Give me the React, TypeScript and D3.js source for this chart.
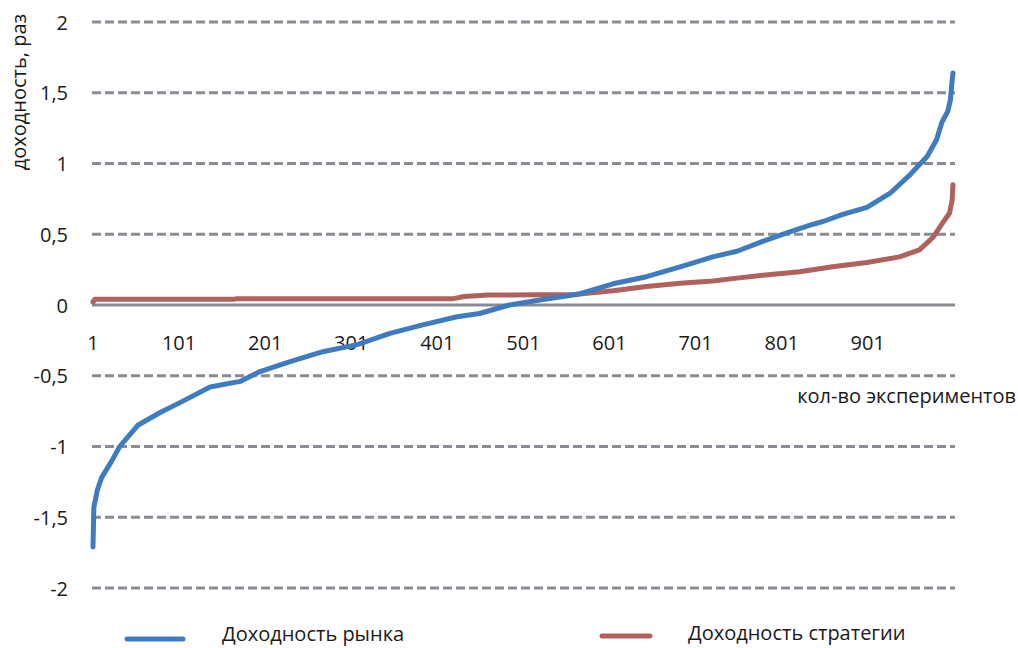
import { useMemo } from 'react'
import { scaleLinear, line, curveLinear } from 'd3'

// Отсортированная доходность рынка и стратегии по 1000 экспериментам

const marketIdx = [1, 2, 6, 11, 23, 32, 53, 79, 102, 137, 172, 195, 230, 268, 308, 346, 384, 424, 450, 485, 520, 566, 605, 644, 683, 721, 749, 779, 807, 834, 849, 872, 900, 927, 950, 970, 981, 987, 994, 997, 999, 1000]
const marketVal = [-1.71, -1.43, -1.31, -1.22, -1.1, -1.0, -0.85, -0.76, -0.69, -0.58, -0.54, -0.47, -0.4, -0.33, -0.28, -0.2, -0.14, -0.083, -0.06, 0.0, 0.035, 0.078, 0.15, 0.2, 0.27, 0.34, 0.38, 0.45, 0.51, 0.565, 0.59, 0.64, 0.69, 0.79, 0.92, 1.05, 1.17, 1.29, 1.37, 1.45, 1.59, 1.64]

const strategyIdx = [1, 3, 165, 168, 420, 432, 460, 560, 605, 644, 683, 721, 749, 779, 822, 860, 900, 938, 961, 977, 988, 996, 999, 1000]
const strategyVal = [0.02, 0.04, 0.04, 0.045, 0.045, 0.06, 0.07, 0.075, 0.1, 0.13, 0.153, 0.17, 0.19, 0.21, 0.235, 0.27, 0.3, 0.34, 0.39, 0.48, 0.58, 0.65, 0.74, 0.85]

const yTicks = [2, 1.5, 1, 0.5, 0, -0.5, -1, -1.5, -2]
const xTicks = [1, 101, 201, 301, 401, 501, 601, 701, 801, 901]

const W = 1018
const H = 648
const PLOT = { left: 93, right: 953, top: 22, bottom: 588 }
const FONT = '"Open Sans", "Noto Sans", sans-serif'
const GRID = '#878d93'
const BLUE = '#3f7bbf'
const RED = '#b0615d'
const INK = '#1a1a1a'

const fmt = (v: number) => String(v).replace('.', ',')

export default function App() {
  const x = useMemo(() => scaleLinear().domain([1, 1000]).range([PLOT.left, PLOT.right]), [])
  const y = useMemo(() => scaleLinear().domain([-2, 2]).range([PLOT.bottom, PLOT.top]), [])

  const mk = line<number>()
    .x((d) => x(d))
    .curve(curveLinear)

  const marketPath = mk.y((_, i) => y(marketVal[i]))(marketIdx) ?? ''
  const strategyPath = mk.y((_, i) => y(strategyVal[i]))(strategyIdx) ?? ''

  return (
    <svg width={W} height={H} style={{ position: 'absolute', left: 0, top: 0, background: '#fff' }} fontFamily={FONT}>
      {/* сетка */}
      {yTicks.filter((t) => t !== 0).map((t) => (
        <line key={t} x1={PLOT.left - 1} x2={PLOT.right + 2} y1={y(t)} y2={y(t)} stroke={GRID} strokeWidth={3} strokeDasharray="9 4" />
      ))}
      <line x1={PLOT.left - 1} x2={PLOT.right + 2} y1={y(0)} y2={y(0)} stroke={GRID} strokeWidth={3} />

      {/* подписи оси Y */}
      {yTicks.map((t) => (
        <text key={t} x={68} y={y(t)} textAnchor="end" dominantBaseline="central" fontSize={20} fill={INK}>
          {fmt(t)}
        </text>
      ))}

      {/* подписи оси X */}
      {xTicks.map((t) => (
        <text key={t} x={x(t)} y={342} textAnchor="middle" dominantBaseline="central" fontSize={20} fill={INK}>
          {t}
        </text>
      ))}

      <text transform="translate(18, 92) rotate(-90)" textAnchor="middle" dominantBaseline="central" fontSize={20} fill={INK}>
        доходность, раз
      </text>
      <text x={1016} y={395} textAnchor="end" dominantBaseline="central" fontSize={20} fill={INK}>
        кол-во экспериментов
      </text>

      {/* линии */}
      <path d={strategyPath} fill="none" stroke={RED} strokeWidth={5} strokeLinejoin="round" strokeLinecap="round" />
      <path d={marketPath} fill="none" stroke={BLUE} strokeWidth={5} strokeLinejoin="round" strokeLinecap="round" />

      {/* легенда */}
      <line x1={127} x2={183} y1={639} y2={639} stroke={BLUE} strokeWidth={5} strokeLinecap="round" />
      <text x={222} y={633} dominantBaseline="central" fontSize={20} fill={INK}>
        Доходность рынка
      </text>
      <line x1={602} x2={650} y1={636} y2={636} stroke={RED} strokeWidth={5} strokeLinecap="round" />
      <text x={688} y={632} dominantBaseline="central" fontSize={20} fill={INK}>
        Доходность стратегии
      </text>
    </svg>
  )
}
